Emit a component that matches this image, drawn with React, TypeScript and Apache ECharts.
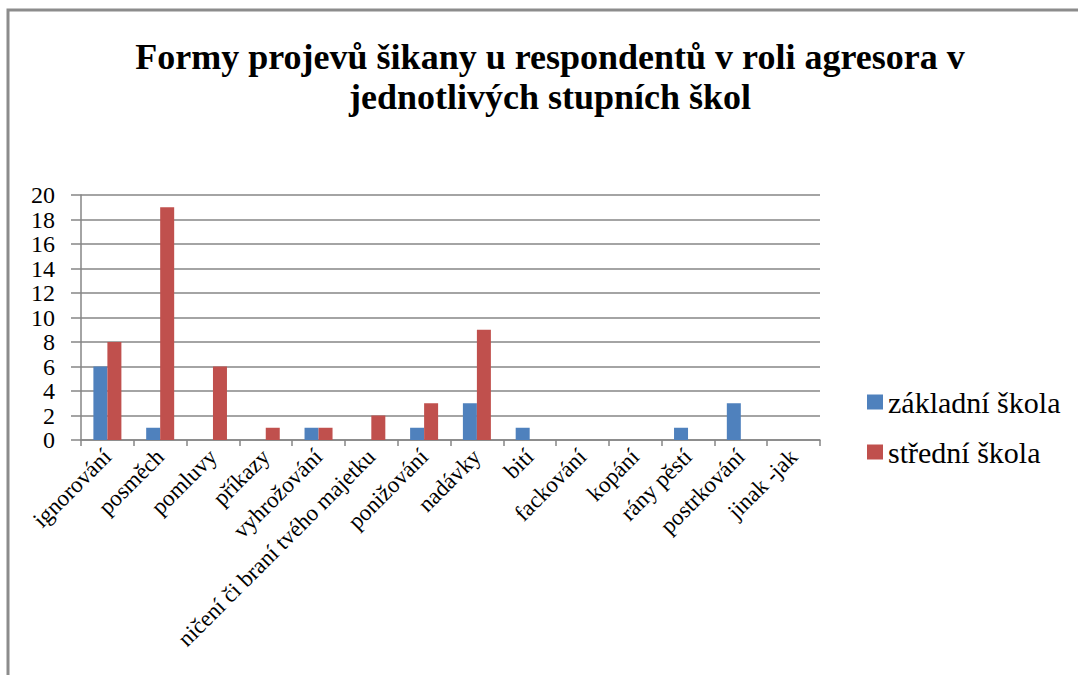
import React, { useEffect, useRef } from "react";
import * as echarts from "echarts";

const categories = [
  "ignorování",
  "posměch",
  "pomluvy",
  "příkazy",
  "vyhrožování",
  "ničení či braní tvého majetku",
  "ponižování",
  "nadávky",
  "bití",
  "fackování",
  "kopání",
  "rány pěstí",
  "postrkování",
  "jinak -jak",
];
const zakladni = [6, 1, 0, 0, 1, 0, 1, 3, 1, 0, 0, 1, 3, 0];
const stredni = [8, 19, 6, 1, 1, 2, 3, 9, 0, 0, 0, 0, 0, 0];
const seriesNames = ["základní škola", "střední škola"];
const titleText = "Formy projevů šikany u respondentů v roli agresora v\njednotlivých stupních škol";

const SERIF = "Liberation Serif";

export default function App() {
  const ref = useRef<HTMLDivElement>(null);
  useEffect(() => {
    document.body.style.margin = "0";
    const chart = echarts.init(ref.current!, null, { renderer: "svg" });
    chart.setOption({
      animation: false,
      backgroundColor: "#ffffff",
      textStyle: { fontFamily: SERIF },
      graphic: [
        {
          type: "rect",
          shape: { x: 8, y: 10, width: 1200, height: 800 },
          style: { fill: "none", stroke: "#8c8c8c", lineWidth: 3 },
          silent: true,
        },
      ],
      title: {
        text: titleText,
        left: 545,
        top: 32,
        textAlign: "center",
        textStyle: {
          fontFamily: SERIF,
          fontWeight: "bold",
          fontSize: 36,
          lineHeight: 40,
          color: "#000",
        },
      },
      legend: {
        orient: "vertical",
        left: 862,
        top: 382,
        itemWidth: 16,
        itemHeight: 15,
        itemGap: 20,
        icon: "rect",
        textStyle: { fontFamily: SERIF, fontSize: 30, color: "#000" },
      },
      grid: { left: 81, right: 258, top: 195, bottom: 235, containLabel: false },
      xAxis: {
        type: "category",
        data: categories,
        axisLine: { lineStyle: { color: "#868686", width: 1.5 } },
        axisTick: { show: true, length: 6, lineStyle: { color: "#868686", width: 1.5 } },
        axisLabel: {
          interval: 0,
          rotate: 45,
          margin: 13,
          fontFamily: SERIF,
          fontSize: 23,
          color: "#000",
        },
      },
      yAxis: {
        type: "value",
        min: 0,
        max: 20,
        interval: 2,
        axisLine: { show: true, lineStyle: { color: "#868686", width: 1.5 } },
        axisTick: { show: true, length: 10, lineStyle: { color: "#868686", width: 1.5 } },
        splitLine: { lineStyle: { color: "#868686", width: 1.5 } },
        axisLabel: {
          margin: 26,
          fontFamily: SERIF,
          fontSize: 24,
          color: "#000",
        },
      },
      series: [
        {
          name: seriesNames[0],
          type: "bar",
          data: zakladni,
          barWidth: 14,
          barGap: "0%",
          itemStyle: { color: "#4F81BD" },
        },
        {
          name: seriesNames[1],
          type: "bar",
          data: stredni,
          barWidth: 14,
          barGap: "0%",
          itemStyle: { color: "#C0504D" },
        },
      ],
    });
    return () => chart.dispose();
  }, []);
  return <div ref={ref} style={{ width: 1078, height: 675 }} />;
}
